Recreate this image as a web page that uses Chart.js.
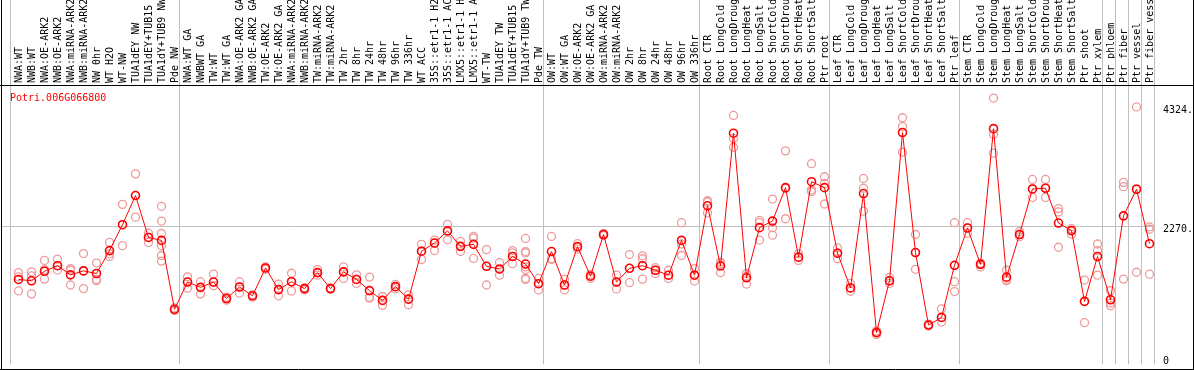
<!DOCTYPE html>
<html>
<head>
<meta charset="utf-8">
<script src="https://cdn.jsdelivr.net/npm/chart.js@4"></script>
<style>
  body { margin: 0; background: #fff; }
  canvas { display: block; }
</style>
</head>
<body>
<canvas id="chart" width="1194" height="370"></canvas>
<script>
const geneName = 'Potri.006G066800';

const samples = [
  'NWA:WT', 'NWB:WT', 'NWA:OE-ARK2', 'NWB:OE-ARK2', 'NWA:miRNA-ARK2', 'NWB:miRNA-ARK2', 'NW 0hr',
  'WT H2O', 'WT-NW', 'TUA1dEY NW', 'TUA1dEY+TUB15 NW', 'TUA1dY+TUB9 NW', 'Pde NW',
  'NWA:WT GA', 'NWBWT GA', 'TW:WT', 'TW:WT GA', 'NWA:OE-ARK2 GA', 'NWB:OE-ARK2 GA', 'TW:OE-ARK2',
  'TW:OE-ARK2 GA', 'NWA:miRNA-ARK2 GA', 'NWB:miRNA-ARK2 GA', 'TW:miRNA-ARK2', 'TW:miRNA-ARK2 GA',
  'TW 2hr', 'TW 8hr', 'TW 24hr', 'TW 48hr', 'TW 96hr', 'TW 336hr', 'WT ACC',
  '35S::etr1-1 H2O', '35S::etr1-1 ACC', 'LMX5::etr1-1 H2O', 'LMX5::etr1-1 ACC', 'WT-TW',
  'TUA1dEY TW', 'TUA1dEY+TUB15 TW', 'TUA1dY+TUB9 TW', 'Pde TW',
  'OW:WT', 'OW:WT GA', 'OW:OE-ARK2', 'OW:OE-ARK2 GA', 'OW:miRNA-ARK2', 'OW:miRNA-ARK2 GA',
  'OW 2hr', 'OW 8hr', 'OW 24hr', 'OW 48hr', 'OW 96hr', 'OW 336hr',
  'Root CTR', 'Root LongCold', 'Root LongDrought', 'Root LongHeat', 'Root LongSalt',
  'Root ShortCold', 'Root ShortDrought', 'Root ShortHeat', 'Root ShortSalt', 'Ptr root',
  'Leaf CTR', 'Leaf LongCold', 'Leaf LongDrought', 'Leaf LongHeat', 'Leaf LongSalt',
  'Leaf ShortCold', 'Leaf ShortDrought', 'Leaf ShortHeat', 'Leaf ShortSalt', 'Ptr leaf',
  'Stem CTR', 'Stem LongCold', 'Stem LongDrought', 'Stem LongHeat', 'Stem LongSalt',
  'Stem ShortCold', 'Stem ShortDrought', 'Stem ShortHeat', 'Stem ShortSalt', 'Ptr shoot', 'Ptr xylem',
  'Ptr phloem', 'Ptr fiber', 'Ptr vessel', 'Ptr fiber vessel'
];

// mean expression per sample
const means = [
  1344, 1321, 1485, 1581, 1423, 1491, 1446, 1841, 2287, 2789, 2067, 2016, 830,
  1299, 1208, 1299, 1016, 1214, 1062, 1542, 1169, 1304, 1186, 1462, 1186, 1474, 1344, 1152,
  983, 1220, 1005, 1830, 1971, 2180, 1914, 1948, 1570, 1525, 1739, 1609, 1271,
  1824, 1248, 1909, 1400, 2118, 1299, 1536, 1581, 1502, 1417, 2016, 1417,
  2614, 1575, 3862, 1372, 2236, 2349, 2925, 1728, 3027, 2925,
  1796, 1197, 2823, 429, 1321, 3874, 1807, 559, 689, 1587,
  2230, 1604, 3941, 1383, 2118, 2902, 2914, 2315, 2185, 966, 1739,
  994, 2439, 2897, 1959
];

// individual replicates per sample
const replicates = [
  [1463, 1389, 1146], [1474, 1406, 1096], [1672, 1514, 1350], [1694, 1581, 1508],
  [1530, 1502, 1248], [1790, 1491, 1186], [1626, 1344, 1321], [1982, 1785, 1739],
  [2637, 2287, 1926], [3162, 2790, 2417], [2140, 2067, 1982],
  [2603, 2349, 2135, 1926, 1756, 1660], [853, 830, 808],
  [1389, 1299, 1192], [1305, 1209, 1096], [1434, 1299, 1237], [1039, 1017, 988],
  [1305, 1214, 1107], [1079, 1062, 1039], [1559, 1542, 1519], [1265, 1169, 1062],
  [1451, 1305, 1146], [1203, 1186, 1163], [1513, 1463, 1418], [1197, 1186, 1175],
  [1559, 1474, 1361], [1423, 1344, 1276], [1384, 1039, 1022], [1050, 983, 898],
  [1259, 1220, 1180], [1079, 1005, 909], [1948, 1830, 1689], [2022, 1971, 1841],
  [2293, 2180, 2027], [1999, 1914, 1824], [2084, 2056, 1706], [1858, 1570, 1248],
  [1632, 1519, 1418], [1841, 1801, 1615], [2050, 1824, 1801, 1559, 1514, 1361, 1344],
  [1361, 1271, 1163],
  [2084, 1700, 1689], [1344, 1248, 1163], [1960, 1909, 1869], [1429, 1400, 1361],
  [2135, 2118, 2101], [1418, 1299, 1180], [1773, 1536, 1288], [1751, 1700, 1350],
  [1547, 1502, 1446], [1502, 1418, 1361], [2321, 1954, 1756], [1530, 1418, 1316],
  [2699, 2677, 2490], [1643, 1615, 1463], [4168, 3772, 3620], [1446, 1400, 1265],
  [2360, 2321, 2022], [2728, 2236, 2106], [3558, 2914, 2389], [1785, 1728, 1672],
  [3337, 2886, 2858], [3112, 2999, 2643],
  [1886, 1796, 1700], [1276, 1197, 1141], [3083, 2914, 2519], [458, 429, 395],
  [1378, 1321, 1276], [4128, 3976, 3535], [2118, 1807, 1519], [576, 559, 542],
  [836, 689, 610], [2321, 1305, 1135],
  [2321, 2231, 2140], [1626, 1604, 1559], [4467, 3846, 3518], [1502, 1344, 1321],
  [2169, 2118, 2078], [3066, 2903, 2756], [3066, 2914, 2756], [2564, 2507, 1898],
  [2219, 2186, 2123], [1333, 966, 599], [1954, 1841, 1418],
  [1152, 938, 892], [3016, 2942, 1350], [4314, 2903, 1468], [2248, 2208, 1434]
];

// first sample index of each group (last entry closes the final group)
const groupStarts = [0, 13, 41, 53, 63, 73, 84, 85, 86, 87, 88];

const tickValues = [0, 2270, 4324];
const tickLabels = ['0', '2270.', '4324.'];
const refLine = 2270;

const monoFont = { family: 'DejaVu Sans Mono', size: 10 };

// one dataset per replicate slot, aligned with the categories
const maxReps = Math.max(...replicates.map(r => r.length));
const repSets = [];
for (let j = 0; j < maxReps; j++) {
  repSets.push({
    data: replicates.map(r => (r[j] === undefined ? null : r[j])),
    showLine: false,
    pointRadius: 4,
    pointBorderWidth: 1.3,
    pointBorderColor: '#ee9a9a',
    pointBackgroundColor: 'rgba(0,0,0,0)'
  });
}

const decorations = {
  id: 'decorations',
  beforeDatasetsDraw(chart) {
    const { ctx, chartArea: a, scales: { x, y } } = chart;
    const step = (a.right - a.left) / samples.length;
    ctx.save();
    ctx.strokeStyle = '#c0c0c0';
    ctx.lineWidth = 1;
    ctx.beginPath();
    groupStarts.forEach(k => {
      const px = Math.floor(x.getPixelForValue(k) - step / 2 - 1.5) + 0.5;
      ctx.moveTo(px, 0);
      ctx.lineTo(px, a.bottom);
    });
    const gy = Math.round(y.getPixelForValue(refLine)) + 0.5;
    ctx.moveTo(1, gy);
    ctx.lineTo(a.right - 1, gy);
    ctx.stroke();
    ctx.restore();
  },
  afterDraw(chart) {
    const { ctx, chartArea: a } = chart;
    ctx.save();
    ctx.strokeStyle = '#000';
    ctx.lineWidth = 1;
    ctx.beginPath();
    ctx.moveTo(1.5, 0); ctx.lineTo(1.5, chart.height);
    ctx.moveTo(chart.width - 0.5, 0); ctx.lineTo(chart.width - 0.5, chart.height);
    ctx.moveTo(0, a.top - 0.5); ctx.lineTo(chart.width, a.top - 0.5);
    ctx.moveTo(0, chart.height - 0.5); ctx.lineTo(chart.width, chart.height - 0.5);
    ctx.stroke();
    ctx.fillStyle = '#ff0000';
    ctx.font = '10px "DejaVu Sans Mono"';
    ctx.textBaseline = 'alphabetic';
    ctx.fillText(geneName, 10, 101);
    ctx.restore();
  }
};

new Chart(document.getElementById('chart'), {
  type: 'line',
  data: {
    labels: samples,
    datasets: [
      {
        data: means,
        borderColor: '#ff0000',
        borderWidth: 1,
        pointRadius: 4,
        pointBorderWidth: 1.6,
        pointBorderColor: '#ff0000',
        pointBackgroundColor: 'rgba(0,0,0,0)',
        tension: 0
      },
      ...repSets
    ]
  },
  options: {
    responsive: false,
    animation: false,
    devicePixelRatio: 1,
    events: [],
    layout: { padding: { left: 12, right: 0, top: 0, bottom: 1 } },
    plugins: { legend: { display: false }, tooltip: { enabled: false } },
    scales: {
      x: {
        position: 'top',
        offset: true,
        grid: { display: false, drawTicks: false },
        border: { display: false },
        ticks: {
          autoSkip: false,
          minRotation: 90,
          maxRotation: 90,
          padding: 3,
          labelOffset: 13,
          color: '#000',
          font: monoFont
        },
        afterFit(scale) {
          scale.height = 86;
          scale.paddingLeft = 0;
          scale.paddingRight = 0;
        }
      },
      y: {
        position: 'right',
        min: -119,
        max: 4675,
        grid: { display: false, drawTicks: false },
        border: { display: false },
        afterBuildTicks(scale) {
          scale.ticks = tickValues.map(v => ({ value: v }));
        },
        ticks: {
          padding: 7,
          labelOffset: 4,
          color: '#000',
          font: monoFont,
          callback: (v) => tickLabels[tickValues.indexOf(v)]
        },
        afterFit(scale) {
          scale.width = 38;
          scale.paddingTop = 0;
          scale.paddingBottom = 0;
        }
      }
    }
  },
  plugins: [decorations]
});
</script>
</body>
</html>
